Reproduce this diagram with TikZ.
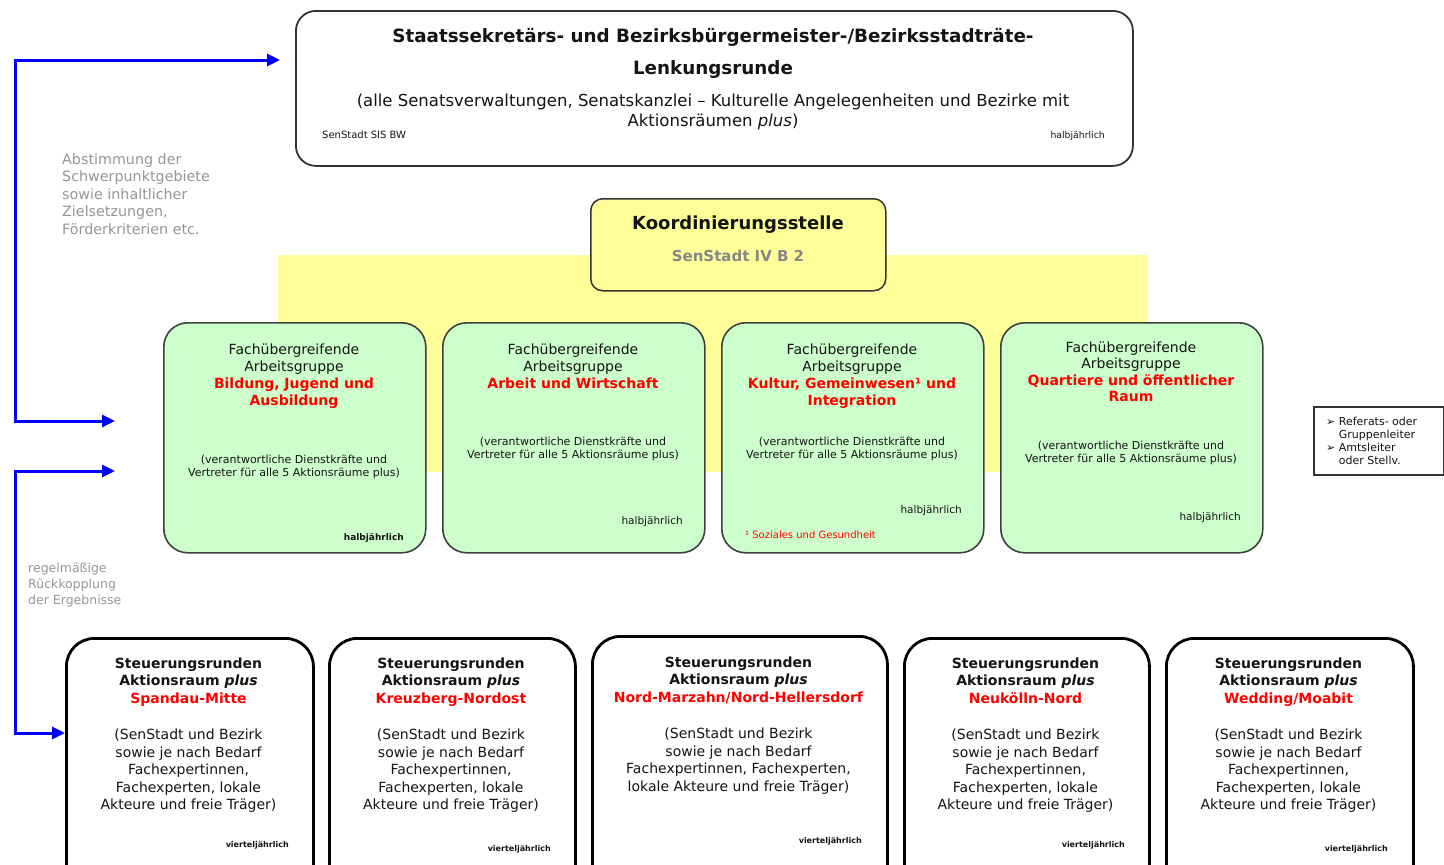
\documentclass[tikz,border=0pt]{standalone}
\usepackage{fontspec}
\setmainfont{DejaVu Sans}
\usepackage{xcolor}
\usepackage{tikz}
\usetikzlibrary{arrows.meta, positioning, calc}

\definecolor{agGruen}{RGB}{204,255,204}
\definecolor{kstGelb}{RGB}{255,255,153}
\definecolor{fbBlau}{RGB}{0,0,255}
\definecolor{agRot}{RGB}{255,0,0}
\definecolor{notizGrau}{RGB}{150,150,150}
\definecolor{kstGrau}{RGB}{135,135,135}
\definecolor{textDunkel}{RGB}{20,20,20}

\newcommand{\hervor}[1]{\textcolor{agRot}{\textbf{#1}}}

\begin{document}
\begin{tikzpicture}[x=1pt,y=-1pt,
  every node/.style={inner sep=0pt, text=textDunkel},
  lkbox/.style={draw=black!80, line width=1.8pt, rounded corners=20pt, anchor=north west},
  kstbox/.style={draw=black!80, fill=kstGelb, line width=1.5pt, rounded corners=12pt, anchor=north west},
  agbox/.style={draw=black!75, fill=agGruen, line width=1.6pt, rounded corners=24pt, anchor=north west, minimum width=262pt, minimum height=230pt},
  srbox/.style={draw=black, fill=white, line width=2.8pt, rounded corners=28pt, anchor=north west, minimum height=260pt},
  agkopf/.style={anchor=north, align=center, font=\fontsize{14}{17}\selectfont},
  agklammer/.style={anchor=north, align=center, font=\fontsize{11}{13.5}\selectfont},
  turnus/.style={anchor=base east, font=\fontsize{10.5}{12}\selectfont},
  srtext/.style={anchor=north, align=center, font=\fontsize{14}{17.5}\selectfont},
  srturnus/.style={anchor=base east, font=\fontsize{8}{10}\selectfont\bfseries},
  fbpfeil/.style={draw=fbBlau, line width=3pt, {Triangle[length=13pt,width=12pt]}-{Triangle[length=13pt,width=12pt]}}
  ]
\useasboundingbox (0,0) rectangle (1444,865);
\clip (0,0) rectangle (1444,865);
\fill[white] (0,0) rectangle (1444,865);

%Shape: Lenkungsrunde
\node[lkbox, minimum width=837pt, minimum height=155pt] (lenk) at (295,10) {};
% Text Node
\node[anchor=base, font=\fontsize{18.3}{22}\selectfont\bfseries] (lenkTitel) at (713,42) {Staatssekretärs- und Bezirksbürgermeister-/Bezirksstadträte-};
\node[anchor=base, font=\fontsize{18.3}{22}\selectfont\bfseries] (lenkName) at (713,74) {Lenkungsrunde};
\node[anchor=north, align=center, font=\fontsize{16.5}{20}\selectfont] (lenkText) at (713,93.5) {(alle Senatsverwaltungen, Senatskanzlei – Kulturelle Angelegenheiten und Bezirke mit\\ Aktionsräumen \textit{plus})};
\node[anchor=base west, font=\fontsize{10}{11}\selectfont] (lenkAmt) at (322,138) {SenStadt SIS BW};
\node[anchor=base east, font=\fontsize{9.3}{11}\selectfont] (lenkTurnus) at (1105,138) {halbjährlich};

%Shape: gelbe Flaeche hinter den Arbeitsgruppen
\fill[kstGelb] (278,255) rectangle (1148,472);

%Shape: Koordinierungsstelle
\node[kstbox, minimum width=295pt, minimum height=92pt] (kst) at (590,198) {};
% Text Node
\node[anchor=base, font=\fontsize{18}{22}\selectfont\bfseries] (kstName) at (738,229) {Koordinierungsstelle};
\node[anchor=base, font=\fontsize{15}{18}\selectfont\bfseries, text=kstGrau] (kstAmt) at (738,261) {SenStadt IV B 2};

%Shape: Arbeitsgruppen
\node[agbox] (ag1) at (163,322) {};
\node[agbox] (ag2) at (442,322) {};
\node[agbox] (ag3) at (721,322) {};
\node[agbox] (ag4) at (1000,322) {};

% Text Node
\node[agkopf] (ag1Kopf) at (294,343.5) {Fachübergreifende\\ Arbeitsgruppe\\ \hervor{Bildung, Jugend und}\\ \hervor{Ausbildung}};
\node[agkopf] (ag2Kopf) at (573,343.5) {Fachübergreifende\\ Arbeitsgruppe\\ \hervor{Arbeit und Wirtschaft}};
\node[agkopf] (ag3Kopf) at (852,343.5) {Fachübergreifende\\ Arbeitsgruppe\\ \hervor{Kultur, Gemeinwesen¹ und}\\ \hervor{Integration}};
\node[agkopf, font=\fontsize{14}{16.5}\selectfont] (ag4Kopf) at (1131,341.5) {Fachübergreifende\\ Arbeitsgruppe\\ \hervor{Quartiere und öffentlicher}\\ \hervor{Raum}};

\node[agklammer] (ag1Klammer) at (294,454.6) {(verantwortliche Dienstkräfte und\\ Vertreter für alle 5 Aktionsräume plus)};
\node[agklammer] (ag2Klammer) at (573,436.6) {(verantwortliche Dienstkräfte und\\ Vertreter für alle 5 Aktionsräume plus)};
\node[agklammer] (ag3Klammer) at (852,436.6) {(verantwortliche Dienstkräfte und\\ Vertreter für alle 5 Aktionsräume plus)};
\node[agklammer] (ag4Klammer) at (1131,440.6) {(verantwortliche Dienstkräfte und\\ Vertreter für alle 5 Aktionsräume plus)};

\node[turnus, font=\fontsize{9}{10}\selectfont\bfseries] (ag1Turnus) at (404,540) {halbjährlich};
\node[turnus] (ag2Turnus) at (683,524) {halbjährlich};
\node[turnus] (ag3Turnus) at (962,513) {halbjährlich};
\node[turnus] (ag4Turnus) at (1241,520) {halbjährlich};
\node[anchor=base west, font=\fontsize{10}{12}\selectfont, text=agRot] (ag3Fussnote) at (745,538) {¹ Soziales und Gesundheit};

%Shape: Legende rechts
\node[draw=black!80, line width=1.5pt, anchor=north west, minimum width=130pt, minimum height=68pt] (rolle) at (1313,406) {};
\node[anchor=north west, align=left, font=\fontsize{11}{13}\selectfont] (rolleText) at (1326,416.5) {➢ Referats- oder\\ \hphantom{➢ }Gruppenleiter\\ ➢ Amtsleiter\\ \hphantom{➢ }oder Stellv.};

%Shape: Steuerungsrunden
\node[srbox, minimum width=247pt] (sr1) at (65,637) {};
\node[srbox, minimum width=246pt] (sr2) at (328,637) {};
\node[srbox, minimum width=295pt] (sr3) at (591,635) {};
\node[srbox, minimum width=245pt] (sr4) at (903,637) {};
\node[srbox, minimum width=247pt] (sr5) at (1165,637) {};

% Text Node
\node[srtext] (sr1Text) at (188.5,657.4) {\textbf{Steuerungsrunden}\\ \textbf{Aktionsraum \textit{plus}}\\ \hervor{Spandau-Mitte}\\[19pt] (SenStadt und Bezirk\\ sowie je nach Bedarf\\ Fachexpertinnen,\\ Fachexperten, lokale\\ Akteure und freie Träger)};
\node[srtext] (sr2Text) at (451,657.4) {\textbf{Steuerungsrunden}\\ \textbf{Aktionsraum \textit{plus}}\\ \hervor{Kreuzberg-Nordost}\\[19pt] (SenStadt und Bezirk\\ sowie je nach Bedarf\\ Fachexpertinnen,\\ Fachexperten, lokale\\ Akteure und freie Träger)};
\node[srtext] (sr3Text) at (738.5,656.4) {\textbf{Steuerungsrunden}\\ \textbf{Aktionsraum \textit{plus}}\\ \hervor{Nord-Marzahn/Nord-Hellersdorf}\\[19pt] (SenStadt und Bezirk\\ sowie je nach Bedarf\\ Fachexpertinnen, Fachexperten,\\ lokale Akteure und freie Träger)};
\node[srtext] (sr4Text) at (1025.5,657.4) {\textbf{Steuerungsrunden}\\ \textbf{Aktionsraum \textit{plus}}\\ \hervor{Neukölln-Nord}\\[19pt] (SenStadt und Bezirk\\ sowie je nach Bedarf\\ Fachexpertinnen,\\ Fachexperten, lokale\\ Akteure und freie Träger)};
\node[srtext] (sr5Text) at (1288.5,657.4) {\textbf{Steuerungsrunden}\\ \textbf{Aktionsraum \textit{plus}}\\ \hervor{Wedding/Moabit}\\[19pt] (SenStadt und Bezirk\\ sowie je nach Bedarf\\ Fachexpertinnen,\\ Fachexperten, lokale\\ Akteure und freie Träger)};

\node[srturnus] (sr1Turnus) at (289,847) {vierteljährlich};
\node[srturnus] (sr2Turnus) at (551,851) {vierteljährlich};
\node[srturnus] (sr3Turnus) at (862,843) {vierteljährlich};
\node[srturnus] (sr4Turnus) at (1125,847) {vierteljährlich};
\node[srturnus] (sr5Turnus) at (1388,851) {vierteljährlich};

% Text Node: Anmerkungen links
\node[anchor=north west, align=left, font=\fontsize{14.3}{17.5}\selectfont, text=notizGrau] (abText) at (62,153.2) {Abstimmung der\\ Schwerpunktgebiete\\ sowie inhaltlicher\\ Zielsetzungen,\\ Förderkriterien etc.};
\node[anchor=north west, align=left, font=\fontsize{12.5}{16}\selectfont, text=notizGrau] (rkText) at (28,562.5) {regelmäßige\\ Rückkopplung\\ der Ergebnisse};

%Straight Lines: Abstimmung und Rueckkopplung
\coordinate (abEnde) at (115,421);
\coordinate (abEcke) at (15,421);
\coordinate (abOben) at (15,60);
\coordinate (lkPfeil) at ($(lenk.north west)+(-15,50)$);
\draw[fbpfeil] (abEnde) -- (abEcke) -- (abOben) -- (lkPfeil);

\coordinate (rkEnde) at (115,471);
\coordinate (rkEcke) at (15,471);
\coordinate (rkUnten) at (15,733);
\draw[fbpfeil] (rkEnde) -- (rkEcke) -- (rkUnten) -- (sr1.west |- rkUnten);

\end{tikzpicture}
\end{document}
